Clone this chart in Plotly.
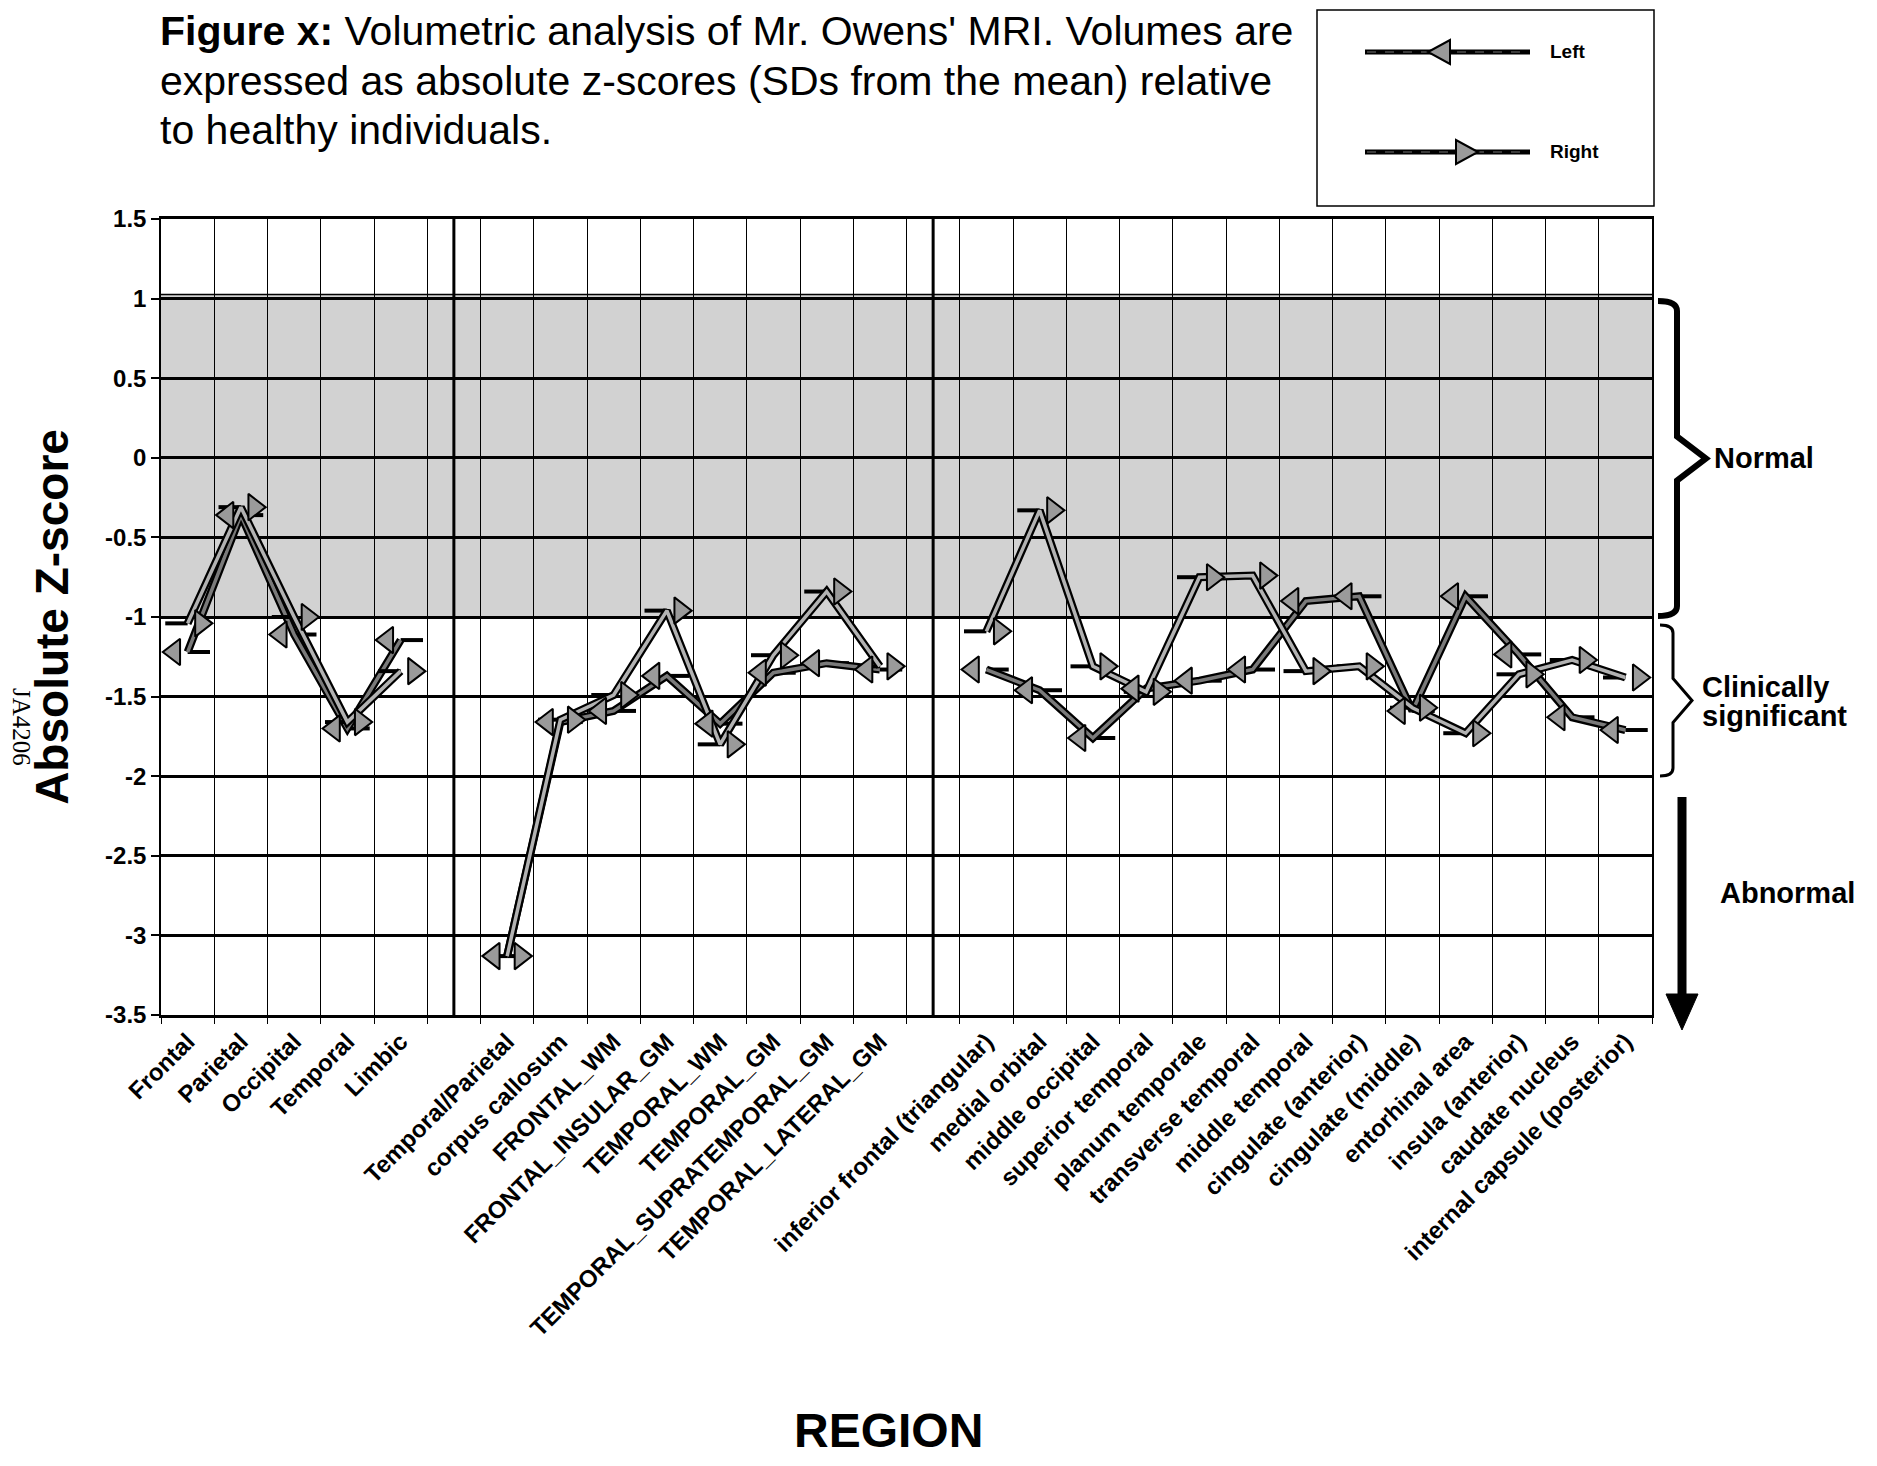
import plotly.graph_objects as go

# ---------------- data ----------------
categories = [
    "Frontal", "Parietal", "Occipital", "Temporal", "Limbic", "",
    "Temporal/Parietal", "corpus callosum", "FRONTAL_WM", "FRONTAL_INSULAR_GM",
    "TEMPORAL_WM", "TEMPORAL_GM", "TEMPORAL_SUPRATEMPORAL_GM", "TEMPORAL_LATERAL_GM", "",
    "inferior frontal (triangular)", "medial orbital", "middle occipital",
    "superior temporal", "planum temporale", "transverse temporal", "middle temporal",
    "cingulate (anterior)", "cingulate (middle)", "entorhinal area", "insula (anterior)",
    "caudate nucleus", "internal capsule (posterior)",
]
left_z = [
    -1.22, -0.36, -1.11, -1.70, -1.145, None,
    -3.13, -1.66, -1.59, -1.37, -1.67, -1.35, -1.29, -1.33, None,
    -1.33, -1.46, -1.76, -1.45, -1.40, -1.33, -0.90, -0.87, -1.59, -0.87, -1.235, -1.63, -1.71,
]
right_z = [
    -1.04, -0.31, -1.00, -1.66, -1.34, None,
    -3.13, -1.645, -1.49, -0.96, -1.80, -1.24, -0.84, -1.31, None,
    -1.09, -0.33, -1.31, -1.47, -0.75, -0.74, -1.34, -1.31, -1.57, -1.73, -1.36, -1.27, -1.38,
]
y_tickvals = [1.5, 1, 0.5, 0, -0.5, -1, -1.5, -2, -2.5, -3, -3.5]
y_ticktext = ["1.5", "1", "0.5", "0", "-0.5", "-1", "-1.5", "-2", "-2.5", "-3", "-3.5"]

# ---------------- page geometry (pixels in the 1877x1466 page) ----------------
PAGE_W, PAGE_H = 1877, 1466
OFF = 8                                  # default body margin of the html page
FIG_W, FIG_H = PAGE_W - 2 * OFF, PAGE_H - 2 * OFF
L, R, T, B = 161, 1652, 219, 1015        # plot area on the page
PW, PH = R - L, B - T
FONT = "Liberation Sans, Arial, sans-serif"


def px(x):
    return (x - L) / PW


def py(y):
    return (B - y) / PH


n = len(categories)
idx = list(range(n))
HEAD_SHIFT = 0.25   # arrow head drawn beside the point (category units)
TAIL = 0.42         # tail length (category units)

fig = go.Figure()

series = [
    (left_z, "Left", "#7a7a7a", "triangle-left", -HEAD_SHIFT, TAIL, 0.0),
    (right_z, "Right", "#b2b2b2", "triangle-right", HEAD_SHIFT, 0.0, TAIL),
]

for vals, name, core, sym, shift, tplus, tminus in series:
    fig.add_trace(go.Scatter(
        x=idx, y=vals, mode="lines", connectgaps=False,
        line=dict(color="black", width=8),
        error_x=dict(type="data", symmetric=False, array=[tplus] * n,
                     arrayminus=[tminus] * n, width=0, thickness=4, color="black"),
        showlegend=False, hoverinfo="skip"))
    fig.add_trace(go.Scatter(
        x=idx, y=vals, mode="lines", connectgaps=False, name=name,
        line=dict(color=core, width=3.5), showlegend=False))

for vals, name, core, sym, shift, tplus, tminus in series:
    fig.add_trace(go.Scatter(
        x=[i + shift for i in idx], y=vals, mode="markers", name=name,
        marker=dict(symbol=sym, size=23, color="#9a9a9a",
                    line=dict(color="black", width=2)),
        showlegend=False, hoverinfo="skip"))

shapes = []
shapes.append(dict(type="rect", xref="paper", yref="y", x0=0, x1=1, y0=-1, y1=1.025,
                   fillcolor="#d2d2d2", line=dict(width=0), layer="below"))
shapes.append(dict(type="line", xref="paper", yref="y", x0=0, x1=1, y0=1.025, y1=1.025,
                   line=dict(color="black", width=1.5), layer="below"))
for i, c in enumerate(categories):
    if c == "":
        shapes.append(dict(type="line", xref="x", yref="paper", x0=i, x1=i, y0=0, y1=1,
                           line=dict(color="black", width=3)))

# custom legend box
shapes.append(dict(type="rect", xref="paper", yref="paper",
                   x0=px(1317), x1=px(1654), y0=py(206), y1=py(10),
                   line=dict(color="black", width=1.5), fillcolor="white"))
for yy, tip, base in [(52, 1428, 1450), (152, 1478, 1456)]:
    shapes.append(dict(type="line", xref="paper", yref="paper",
                       x0=px(1365), x1=px(1530), y0=py(yy), y1=py(yy),
                       line=dict(color="black", width=5)))
    shapes.append(dict(type="line", xref="paper", yref="paper",
                       x0=px(1367), x1=px(1528), y0=py(yy), y1=py(yy),
                       line=dict(color="#777777", width=1.2, dash="dash")))
    shapes.append(dict(type="path", xref="paper", yref="paper",
                       path=f"M {px(tip)},{py(yy)} L {px(base)},{py(yy - 12)} L {px(base)},{py(yy + 12)} Z",
                       fillcolor="#9a9a9a", line=dict(color="black", width=2)))


def brace(xh, xs, xt, ytop, ybot, r):
    ym = (ytop + ybot) / 2
    return (f"M {px(xh)},{py(ytop)} Q {px(xs)},{py(ytop)} {px(xs)},{py(ytop + r)} "
            f"L {px(xs)},{py(ym - 22)} L {px(xt)},{py(ym)} L {px(xs)},{py(ym + 22)} "
            f"L {px(xs)},{py(ybot - r)} Q {px(xs)},{py(ybot)} {px(xh)},{py(ybot)}")


shapes.append(dict(type="path", xref="paper", yref="paper",
                   path=brace(1658, 1677, 1706, 301, 616, 10),
                   line=dict(color="black", width=6)))
shapes.append(dict(type="path", xref="paper", yref="paper",
                   path=brace(1660, 1673, 1692, 625, 776, 8),
                   line=dict(color="black", width=3)))
shapes.append(dict(type="line", xref="paper", yref="paper",
                   x0=px(1682), x1=px(1682), y0=py(797), y1=py(1000),
                   line=dict(color="black", width=9)))
shapes.append(dict(type="path", xref="paper", yref="paper",
                   path=f"M {px(1666)},{py(994)} L {px(1698)},{py(994)} L {px(1682)},{py(1030)} Z",
                   fillcolor="black", line=dict(color="black", width=1)))

ann = []
title_lines = [
    "<b>Figure x:</b> Volumetric analysis of Mr. Owens' MRI. Volumes are",
    "expressed as absolute z-scores (SDs from the mean) relative",
    "to healthy individuals.",
]
for k, t in enumerate(title_lines):
    ann.append(dict(text=t, xref="paper", yref="paper", x=px(158), y=py(31 + 49.5 * k),
                    xanchor="left", yanchor="middle", showarrow=False,
                    font=dict(family=FONT, size=41, color="black")))

for text, yy in [("Left", 52), ("Right", 152)]:
    ann.append(dict(text=text, xref="paper", yref="paper", x=px(1548), y=py(yy),
                    xanchor="left", yanchor="middle", showarrow=False,
                    font=dict(family=FONT, size=19, color="black", weight="bold")))

side_font = dict(family=FONT, size=29, color="black", weight="bold")
for text, x, y in [("Normal", 1712, 458), ("Clinically", 1700, 687),
                   ("significant", 1700, 716), ("Abnormal", 1718, 893)]:
    ann.append(dict(text=text, xref="paper", yref="paper", x=px(x), y=py(y),
                    xanchor="left", yanchor="middle", showarrow=False, font=side_font))

ann.append(dict(text="JA4206", xref="paper", yref="paper", x=px(22), y=py(727),
                xanchor="center", yanchor="middle", showarrow=False, textangle=90,
                font=dict(family="Liberation Serif, Times New Roman, serif", size=25, color="black")))

ann.append(dict(text="REGION", xref="paper", yref="paper", x=px(888), y=py(1430),
                xanchor="center", yanchor="middle", showarrow=False,
                font=dict(family=FONT, size=48, color="black", weight="bold")))

fig.update_layout(
    width=FIG_W, height=FIG_H,
    margin=dict(l=L - OFF, r=FIG_W - (R - OFF), t=T - OFF, b=FIG_H - (B - OFF), autoexpand=False),
    paper_bgcolor="white", plot_bgcolor="white",
    showlegend=False,
    shapes=shapes, annotations=ann,
    xaxis=dict(
        range=[-0.5, n - 0.5], tickmode="array", tickvals=idx, ticktext=categories,
        tickangle=-45, ticks="", showgrid=False, zeroline=False,
        tickfont=dict(family=FONT, size=24, color="black", weight="bold"),
        showline=True, linecolor="black", linewidth=3, mirror=True,
        minor=dict(tickvals=[i - 0.5 for i in range(n + 1)], showgrid=True,
                   gridcolor="black", gridwidth=1.2, ticks="outside", ticklen=6,
                   tickcolor="black", tickwidth=1),
    ),
    yaxis=dict(
        range=[-3.5, 1.5], tickmode="array", tickvals=y_tickvals, ticktext=y_ticktext,
        showgrid=True, gridcolor="black", gridwidth=3, zeroline=False,
        ticks="outside", ticklen=8, tickcolor="black", tickwidth=1.5,
        tickfont=dict(family=FONT, size=24, color="black", weight="bold"),
        showline=True, linecolor="black", linewidth=1.5, mirror=True,
        title=dict(text="Absolute Z-score", standoff=22,
                   font=dict(family=FONT, size=46, color="black", weight="bold")),
    ),
)

fig.write_html("out.html")
